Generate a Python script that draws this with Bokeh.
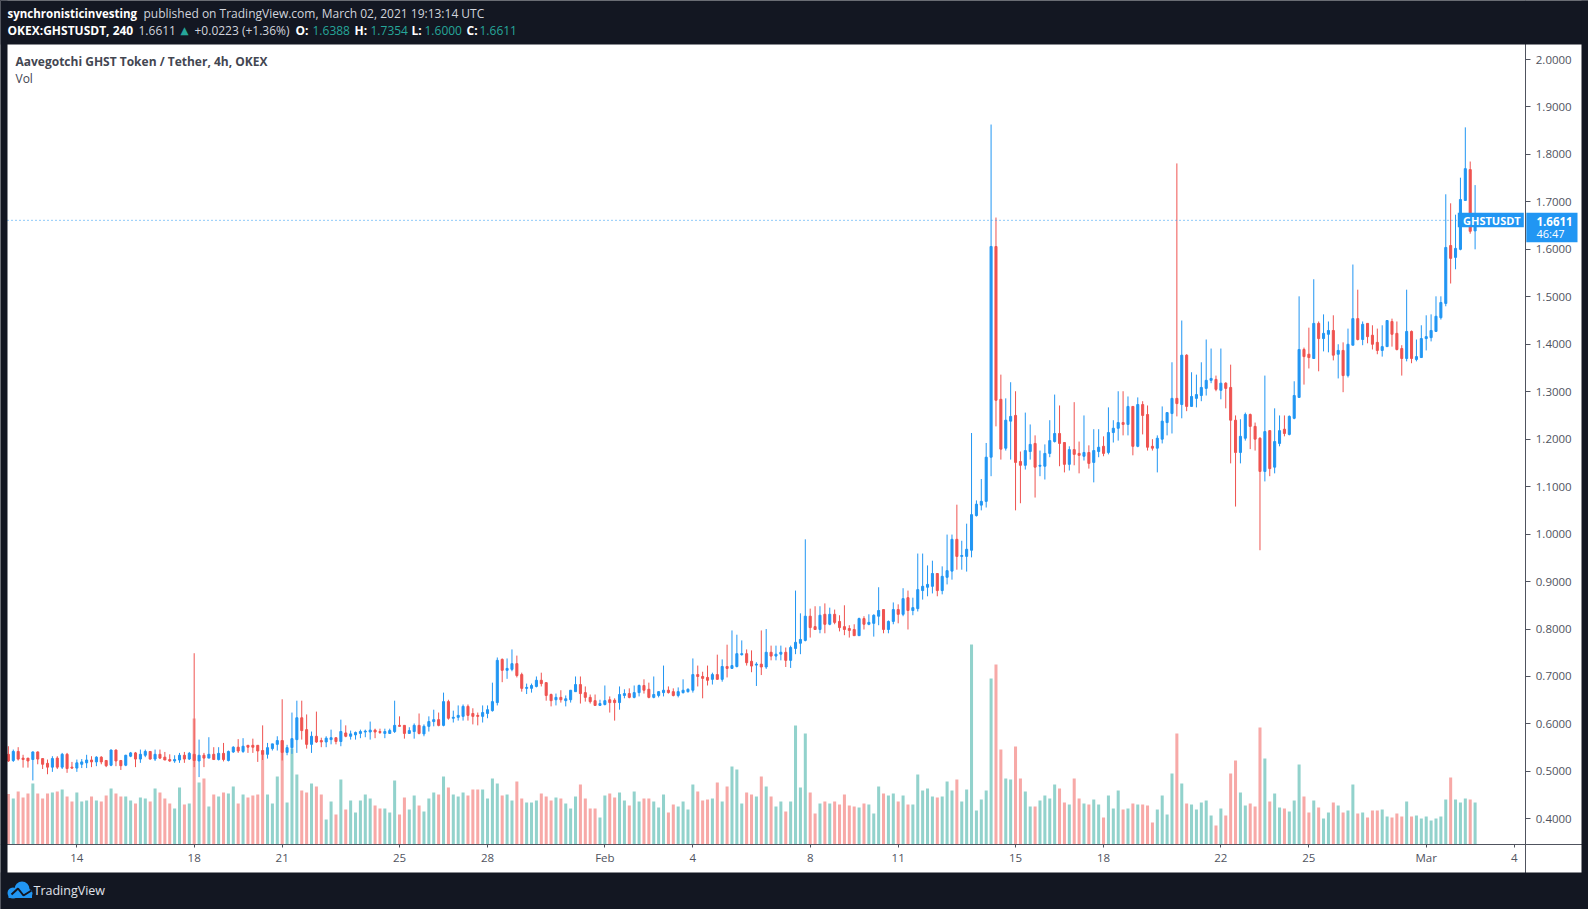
import numpy as np
from bokeh.plotting import figure
from bokeh.models import (Range1d, FixedTicker, PrintfTickFormatter, Label,
                          BoxAnnotation, ColumnDataSource)
from bokeh.embed import file_html
from bokeh.resources import INLINE

# ---------------- data (4h candles, Jan 11 16:00 .. Mar 2 16:00 UTC) ----------------
opens = [
 .536,.523,.542,.528,.528,.525,.541,.527,.517,.509,.528,.509,.536,.509,.507,.515,.518,.524,.520,.530,
 .523,.513,.545,.523,.513,.532,.539,.526,.534,.542,.526,.536,.530,.525,.522,.524,.534,.526,.536,.522,
 .534,.528,.536,.525,.538,.523,.541,.551,.542,.555,.555,.555,.544,.536,.548,.557,.565,.540,.550,.567,
 .613,.588,.557,.574,.565,.562,.567,.571,.563,.581,.574,.577,.580,.583,.583,.587,.584,.580,.580,.584,
 .597,.597,.580,.584,.597,.579,.595,.605,.609,.597,.647,.612,.614,.616,.637,.622,.618,.616,.622,.628,
 .645,.736,.713,.715,.727,.704,.675,.675,.679,.692,.687,.662,.651,.656,.649,.651,.668,.683,.666,.656,
 .649,.639,.641,.651,.650,.645,.660,.664,.656,.666,.681,.673,.656,.660,.666,.671,.668,.660,.666,.668,
 .671,.704,.700,.698,.694,.704,.694,.721,.717,.721,.746,.748,.732,.724,.726,.720,.751,.743,.747,.751,
 .734,.759,.770,.776,.827,.805,.799,.831,.810,.831,.816,.805,.801,.799,.786,.822,.810,.812,.827,.841,
 .799,.816,.841,.831,.866,.839,.843,.881,.888,.890,.917,.881,.909,.922,.989,.953,.953,.966,1.039,1.061,
 1.069,1.162,1.606,1.284,1.181,1.238,1.250,1.153,1.145,1.174,1.191,1.143,1.143,1.170,1.195,1.212,1.193,1.147,1.178,1.170,
 1.164,1.172,1.151,1.174,1.185,1.172,1.214,1.223,1.235,1.231,1.269,1.185,1.273,1.252,1.185,1.181,1.200,1.235,1.254,1.286,
 1.273,1.377,1.269,1.286,1.292,1.307,1.324,1.326,1.303,1.318,1.309,1.240,1.172,1.202,1.252,1.227,1.202,1.132,1.218,1.141,
 1.191,1.221,1.210,1.244,1.288,1.389,1.379,1.370,1.444,1.412,1.421,1.429,1.379,1.387,1.334,1.398,1.454,1.410,1.444,1.419,
 1.404,1.387,1.395,1.448,1.423,1.391,1.370,1.427,1.368,1.372,1.412,1.414,1.427,1.456,1.486,1.608,1.583,1.600,1.703,1.768,
 1.6388]
highs = [
 .553,.546,.551,.535,.528,.542,.542,.527,.525,.532,.532,.539,.539,.520,.525,.526,.535,.532,.532,.532,
 .523,.546,.546,.523,.535,.541,.541,.546,.546,.542,.546,.546,.541,.536,.534,.539,.541,.541,.749,.567,
 .539,.572,.551,.551,.560,.544,.553,.568,.570,.555,.569,.555,.597,.560,.558,.574,.652,.556,.624,.649,
 .649,.620,.584,.626,.571,.574,.588,.571,.609,.597,.586,.584,.588,.588,.605,.590,.590,.590,.590,.649,
 .616,.597,.593,.601,.622,.599,.616,.630,.624,.666,.651,.628,.639,.641,.641,.633,.624,.639,.639,.687,
 .740,.738,.738,.757,.744,.708,.685,.685,.700,.708,.687,.664,.664,.671,.660,.671,.700,.700,.679,.662,
 .662,.651,.681,.658,.654,.679,.673,.675,.681,.683,.694,.687,.700,.668,.723,.679,.675,.677,.694,.675,
 .738,.723,.710,.723,.708,.746,.736,.767,.797,.788,.776,.757,.755,.730,.797,.800,.765,.765,.765,.761,
 .765,.881,.833,.989,.843,.848,.848,.854,.845,.841,.829,.850,.808,.810,.824,.827,.831,.831,.888,.841,
 .818,.856,.852,.886,.881,.866,.959,.959,.934,.944,.917,.932,.999,.999,1.062,.986,1.022,1.213,1.071,1.116,
 1.192,1.863,1.667,1.336,1.286,1.320,1.301,1.174,1.256,1.231,1.208,1.176,1.189,1.240,1.294,1.271,1.193,1.185,1.278,1.195,
 1.250,1.187,1.221,1.221,1.206,1.267,1.240,1.301,1.301,1.290,1.269,1.288,1.280,1.271,1.200,1.208,1.269,1.256,1.362,1.781,
 1.450,1.379,1.341,1.336,1.362,1.410,1.391,1.334,1.391,1.320,1.357,1.250,1.242,1.256,1.254,1.235,1.204,1.334,1.218,1.265,
 1.250,1.250,1.250,1.322,1.501,1.393,1.435,1.537,1.448,1.463,1.448,1.461,1.400,1.404,1.433,1.568,1.515,1.448,1.444,1.440,
 1.433,1.440,1.450,1.454,1.448,1.398,1.515,1.429,1.410,1.440,1.461,1.463,1.501,1.501,1.716,1.697,1.673,1.751,1.857,1.785,
 1.7354]
lows = [
 .520,.520,.523,.508,.508,.481,.515,.505,.494,.499,.505,.505,.497,.505,.499,.507,.507,.509,.511,.515,
 .509,.511,.511,.503,.511,.530,.509,.518,.530,.525,.522,.526,.524,.520,.518,.518,.518,.524,.509,.488,
 .509,.528,.525,.523,.521,.521,.539,.539,.539,.539,.539,.520,.524,.527,.544,.544,.523,.534,.537,.539,
 .567,.548,.539,.560,.551,.551,.557,.557,.553,.572,.567,.567,.570,.572,.567,.570,.579,.570,.579,.581,
 .595,.569,.580,.569,.578,.574,.584,.595,.595,.595,.609,.603,.607,.607,.607,.599,.597,.603,.612,.626,
 .639,.688,.695,.711,.698,.668,.663,.666,.677,.679,.649,.637,.639,.645,.637,.645,.668,.643,.647,.643,
 .639,.639,.639,.624,.607,.630,.654,.654,.654,.658,.664,.654,.654,.656,.658,.664,.658,.656,.664,.666,
 .666,.679,.654,.681,.683,.694,.689,.698,.717,.719,.744,.723,.709,.680,.703,.716,.734,.734,.734,.720,
 .718,.747,.747,.774,.782,.799,.791,.791,.808,.810,.795,.787,.782,.786,.786,.799,.808,.784,.808,.791,
 .791,.810,.812,.827,.799,.829,.837,.862,.869,.875,.869,.873,.894,.904,.925,.925,.921,.951,1.037,1.050,
 1.056,1.122,1.227,1.157,1.176,1.157,1.050,1.065,1.136,1.157,1.077,1.122,1.115,1.162,1.193,1.143,1.130,1.134,1.145,1.128,
 1.155,1.138,1.109,1.162,1.164,1.168,1.193,1.197,1.208,1.208,1.166,1.183,1.210,1.176,1.176,1.130,1.191,1.208,1.212,1.248,
 1.244,1.259,1.269,1.267,1.280,1.292,1.318,1.301,1.284,1.265,1.149,1.058,1.149,1.197,1.179,1.176,0.966,1.111,1.122,1.128,
 1.185,1.206,1.208,1.242,1.288,1.315,1.349,1.370,1.343,1.385,1.383,1.366,1.328,1.299,1.330,1.398,1.408,1.398,1.402,1.389,
 1.379,1.374,1.395,1.395,1.387,1.334,1.364,1.360,1.364,1.372,1.387,1.406,1.427,1.452,1.480,1.528,1.558,1.598,1.703,1.633,
 1.6000]
closes = [
 .522,.542,.526,.525,.522,.541,.526,.515,.509,.527,.509,.536,.506,.507,.518,.520,.524,.520,.530,.520,
 .512,.545,.522,.512,.534,.539,.526,.536,.542,.526,.536,.528,.524,.522,.525,.534,.526,.538,.523,.534,
 .528,.536,.525,.538,.525,.542,.551,.543,.553,.551,.551,.543,.536,.550,.558,.565,.540,.550,.569,.613,
 .586,.557,.574,.562,.562,.570,.571,.563,.584,.574,.579,.582,.584,.585,.587,.583,.582,.584,.586,.597,
 .595,.580,.586,.597,.580,.595,.605,.609,.597,.647,.612,.614,.618,.637,.618,.616,.616,.624,.630,.647,
 .734,.713,.717,.727,.702,.675,.677,.681,.692,.685,.660,.649,.656,.651,.653,.671,.683,.664,.656,.647,
 .639,.643,.649,.645,.645,.662,.664,.656,.666,.681,.671,.656,.662,.668,.671,.666,.660,.668,.671,.673,
 .704,.700,.696,.692,.704,.694,.721,.717,.723,.748,.748,.729,.722,.726,.720,.751,.743,.747,.751,.734,
 .761,.772,.778,.827,.803,.799,.829,.810,.831,.814,.803,.799,.797,.786,.822,.810,.814,.829,.839,.799,
 .816,.841,.831,.864,.839,.845,.883,.890,.894,.917,.881,.911,.923,.989,.953,.955,.968,1.041,1.063,1.069,
 1.162,1.606,1.282,1.179,1.240,1.248,1.151,1.145,1.176,1.189,1.141,1.145,1.170,1.197,1.212,1.191,1.147,1.178,1.168,1.166,
 1.172,1.149,1.176,1.183,1.170,1.214,1.223,1.235,1.231,1.269,1.185,1.273,1.250,1.183,1.181,1.202,1.238,1.256,1.286,1.275,
 1.377,1.269,1.290,1.294,1.309,1.324,1.328,1.305,1.318,1.307,1.240,1.172,1.206,1.252,1.227,1.200,1.132,1.216,1.138,1.195,
 1.218,1.212,1.248,1.292,1.389,1.374,1.372,1.444,1.412,1.423,1.429,1.377,1.387,1.334,1.400,1.454,1.410,1.442,1.416,1.400,
 1.387,1.395,1.450,1.421,1.389,1.370,1.427,1.370,1.374,1.412,1.416,1.429,1.459,1.488,1.604,1.581,1.602,1.705,1.770,1.638,
 1.6611]
volumes = [
 50.7,46.3,53.3,47.3,51.3,61.3,51.3,46.3,51.3,52.3,53.3,55.3,48.3,43.3,52.3,43.3,44.3,48.3,44.3,43.3,
 49.3,56.3,51.3,48.3,48.3,44.3,41.3,47.3,46.3,43.3,56.3,52.3,46.3,41.3,36.3,57.3,40.3,41.3,126.3,62.3,
 66.3,38.3,50.3,48.3,52.3,51.3,58.3,41.3,50.3,47.3,49.3,50.3,91.3,50.3,41.3,68.3,104.3,42.3,96.3,70.3,
 54.3,52.3,61.3,58.3,50.3,25.3,43.3,30.3,65.3,35.3,44.3,32.3,44.3,50.3,46.3,39.3,36.3,36.3,32.3,64.3,
 30.3,47.3,35.3,49.3,39.3,33.3,46.3,52.3,50.3,68.3,57.3,50.3,48.3,52.3,49.3,55.3,55.3,55.3,46.3,66.3,
 61.3,49.3,50.3,44.3,63.3,46.3,42.3,42.3,44.3,51.3,48.3,44.3,47.3,46.3,41.3,36.3,48.3,60.3,46.3,36.3,
 36.3,27.3,49.3,51.3,47.3,52.3,44.3,39.3,53.3,43.3,46.3,46.3,43.3,37.3,50.3,32.3,40.3,38.3,43.3,35.3,
 60.3,53.3,44.3,45.3,46.3,62.3,43.3,58.3,78.3,75.3,41.3,52.3,50.3,48.3,68.3,58.3,48.3,38.3,43.3,33.3,
 43.3,119.3,57.3,111.3,52.3,31.3,41.3,43.3,41.3,43.3,40.3,50.3,39.3,38.3,37.3,41.3,40.3,31.3,58.3,51.3,
 49.3,51.3,43.3,49.3,40.3,40.3,70.3,54.3,56.3,48.3,47.3,48.3,63.3,54.3,65.3,43.3,55.3,200.3,34.3,45.3,
 54.3,166.3,180.3,95.3,66.3,65.3,98.3,66.3,53.3,38.3,38.3,44.3,49.3,46.3,60.3,56.3,42.3,40.3,66.3,46.3,
 41.3,40.3,45.3,40.3,27.3,49.3,36.3,54.3,35.3,36.3,41.3,40.3,40.3,39.3,22.3,35.3,49.3,30.3,71.3,111.3,
 61.3,41.3,40.3,35.3,42.3,44.3,29.3,19.3,36.3,29.3,71.3,84.3,52.3,39.3,41.3,38.3,117.3,86.3,43.3,51.3,
 37.3,36.3,33.3,44.3,80.3,48.3,32.3,44.3,37.3,26.3,32.3,42.3,39.3,32.3,34.3,60.3,31.3,32.3,27.3,34.3,
 34.3,35.3,28.3,27.3,31.3,28.3,43.3,28.3,29.3,26.3,28.3,24.3,26.3,28.3,45.3,67.3,45.3,42.3,46.3,45.3,
 42.3]

tick_index = [14, 38, 56, 80, 98, 122, 140, 164, 182, 206, 224, 248, 266, 290, 308]
tick_labels = ["14", "18", "21", "25", "28", "Feb", "4", "8", "11", "15", "18", "22", "25", "Mar", "4"]
price_ticks = [0.4, 0.5, 0.6, 0.7, 0.8, 0.9, 1.0, 1.1, 1.2, 1.3, 1.4, 1.5, 1.6, 1.7, 1.8, 1.9, 2.0]
last_price = 1.6611

# ---------------- geometry ----------------
# The plot frame covers the whole 1588x909 window; both axes are drawn at fixed
# locations inside it (their side panels lie beyond the window edge).
VW, VH = 1588, 909
R_PANEL, B_PANEL = 60, 40
PXB = 4.889                  # px per candle
PXU = 474.6                  # px per 1.0 of price
BAR0_X = 7.9                 # page x of first candle
AXIS_X, AXIS_Y = 1525.3, 844.3
x_start = (0 - BAR0_X) / PXB
x_end = x_start + VW / PXB
y_top = 2.0 + 59 / PXU
y_bot = y_top - VH / PXU

def dx(X):  # page x -> data x
    return x_start + X / PXB

def dy(Y):  # page y -> data y
    return y_top - Y / PXU

n = len(closes)
idx = np.arange(n)
o = np.array(opens); c = np.array(closes)
up = c >= o
UP, DN = "#2196F3", "#EF5350"
src = ColumnDataSource(dict(
    x=idx, high=highs, low=lows,
    top=np.maximum(o, c), bottom=np.minimum(o, c),
    color=np.where(up, UP, DN),
    vol=volumes, vcolor=np.where(up, "#92D2CC", "#F7A9A7"),
))

DARK = "#131722"
p = figure(width=VW + R_PANEL, height=VH + B_PANEL, output_backend="svg", toolbar_location=None,
           x_range=Range1d(x_start, x_end), y_range=Range1d(y_bot, y_top),
           y_axis_location="right", min_border_left=0, min_border_top=0,
           min_border_bottom=B_PANEL, min_border_right=R_PANEL)
p.title.visible = False
p.extra_y_ranges = {"vol": Range1d(-(VH - AXIS_Y), AXIS_Y)}
p.background_fill_color = "white"
p.border_fill_color = DARK
p.outline_line_color = None
p.grid.visible = False

# volume
p.vbar(x="x", width=0.62, top="vol", bottom=0, fill_color="vcolor", line_color=None,
       source=src, y_range_name="vol")
# wicks and bodies
p.segment(x0="x", y0="low", x1="x", y1="high", line_color="color", line_width=1, source=src)
p.vbar(x="x", width=0.42, top="top", bottom="bottom", fill_color="color",
       line_color="color", line_width=1, source=src)
# last price dotted line
p.segment(x0=[dx(7)], y0=[last_price], x1=[dx(1457)], y1=[last_price],
          line_color=UP, line_dash="1 3", line_width=1)

AX = "#50535E"
xa = p.xaxis[0]
xa.fixed_location = dy(AXIS_Y)
xa.ticker = FixedTicker(ticks=tick_index)
xa.major_label_overrides = {t: l for t, l in zip(tick_index, tick_labels)}
xa.major_tick_out = 3
xa.major_label_standoff = 2
ya = p.yaxis[0]
ya.fixed_location = dx(AXIS_X)
ya.ticker = FixedTicker(ticks=price_ticks)
ya.formatter = PrintfTickFormatter(format="%.4f")
ya.major_tick_out = 5
ya.major_label_standoff = 5
for ax in (xa, ya):
    ax.minor_tick_line_color = None
    ax.major_tick_in = 0
    ax.axis_line_color = AX
    ax.major_tick_line_color = AX
    ax.major_label_text_color = AX
    ax.major_label_text_font = "Open Sans"
    ax.major_label_text_font_size = "11.5px"

# dark page chrome around the white chart area
for l, r, t, b in [(0, VW, 0, 44), (0, 7, 0, VH), (1581, VW, 0, VH), (0, VW, 872, VH)]:
    p.add_layout(BoxAnnotation(left=dx(l), right=dx(r), top=dy(t), bottom=dy(b),
                               fill_color=DARK, fill_alpha=1, line_color=None, level="annotation"))

# last-price boxes
p.add_layout(BoxAnnotation(left=dx(1457.3), right=dx(1523.3), top=dy(212.3), bottom=dy(226.7),
                           fill_color=UP, fill_alpha=1, line_color=None, level="overlay"))
p.add_layout(BoxAnnotation(left=dx(1525.8), right=dx(1577), top=dy(212.3), bottom=dy(241.7),
                           fill_color=UP, fill_alpha=1, line_color=None, level="overlay"))

def lab(text, X, Y, color, size="12px", bold=False, font="Open Sans"):
    p.add_layout(Label(x=dx(X), y=dy(Y), text=text, text_color=color, text_font=font,
                       text_font_size=size, text_font_style="bold" if bold else "normal",
                       text_baseline="middle", text_align="left", level="overlay"))

WH, GR, TE = "#FFFFFF", "#D1D4DC", "#26A69A"
lab("synchronisticinvesting", 7, 12.5, WH, "11.5px", True)
lab("published on TradingView.com, March 02, 2021 19:13:14 UTC", 143, 12.5, GR, "12px")
lab("OKEX:GHSTUSDT, 240", 7, 29.5, WH, "12px", True)
lab("1.6611", 138, 29.5, GR, "12px")
lab("\u25B2", 180, 29.5, TE, "10.5px", False, "DejaVu Sans")
lab("+0.0223 (+1.36%)", 194, 29.5, GR, "12px")
for t, X, col, b in [("O:", 295, WH, True), ("1.6388", 312, TE, False),
                     ("H:", 354, WH, True), ("1.7354", 370, TE, False),
                     ("L:", 411, WH, True), ("1.6000", 424, TE, False),
                     ("C:", 466, WH, True), ("1.6611", 479, TE, False)]:
    lab(t, X, 29.5, col, "12px", b)
lab("Aavegotchi GHST Token / Tether, 4h, OKEX", 15, 61, "#434651", "12px", True)
lab("Vol", 15, 78, "#434651", "12px")
lab("GHSTUSDT", 1462.5, 220, WH, "11px", True)
lab("1.6611", 1536, 221, WH, "11.5px", True)
lab("46:47", 1536, 233, WH, "11px")
lab("TradingView", 33, 890, "#E0E3EB", "12.5px")

# TradingView logo (small blue cloud with a chart stroke)
p.scatter(x=[dx(12.5), dx(21.5), dx(27.5)], y=[dy(892.5), dy(888.5), dy(893)],
          size=[11, 15, 9], marker="circle", fill_color=UP, line_color=None, level="overlay")
p.quad(left=[dx(8)], right=[dx(31.5)], top=[dy(892)], bottom=[dy(897.5)],
       fill_color=UP, line_color=None, level="overlay")
p.line(x=[dx(11), dx(17.5), dx(23), dx(31)], y=[dy(894), dy(888), dy(895), dy(890)],
       line_color=DARK, line_width=2, level="overlay")

template = ("{% block preamble %}<style>html, body { background-color: #131722; "
            "overflow: hidden; }</style>{% endblock %}")
open("out.html", "w").write(file_html(p, INLINE, template=template))
